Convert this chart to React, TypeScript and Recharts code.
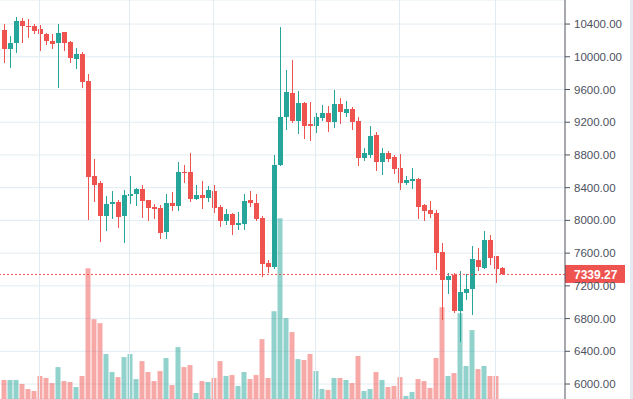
import React from 'react';
import { ComposedChart, Bar, XAxis, YAxis, CartesianGrid, ReferenceLine, Cell } from 'recharts';

const UP = '#26a69a';
const DOWN = '#ef5350';
const GRID = '#e1ecf2';

// daily candles, 2019-09-10 .. 2019-12-02
const START = Date.UTC(2019, 8, 10);
const dates = Array.from({ length: 84 }, (_, i) => new Date(START + i * 86400000).toISOString().slice(0, 10));

const open = [
  10326, 10097, 10171, 10440, 10378, 10378, 10338, 10281, 10195, 10171, 10305, 10183, 9975, 10036, 9706, 8542,
  8460, 8053, 8200, 8224, 8053, 8297, 8322, 8383, 8248, 8163, 8151, 7857, 8212, 8175, 8591, 8591,
  8261, 8310, 8273, 8358, 8163, 7992, 8077, 7943, 7955, 8248, 8212, 8029, 7479, 7426, 8676, 9263,
  9556, 9214, 9434, 9177, 9153, 9251, 9312, 9202, 9422, 9312, 9361, 9214, 8762, 8798, 9043, 8713,
  8823, 8774, 8640, 8456, 8481, 8505, 8187, 8126, 8090, 7613, 7271, 7332, 6892, 7112, 7161, 7515,
  7418, 7760, 7564, 7418,
];
const high = [
  10400, 10253, 10485, 10473, 10460, 10404, 10392, 10293, 10281, 10404, 10305, 10195, 10110, 10061, 9788, 8750,
  8485, 8297, 8358, 8248, 8371, 8542, 8399, 8432, 8255, 8200, 8187, 8322, 8346, 8713, 8676, 8823,
  8432, 8481, 8420, 8432, 8187, 8139, 8085, 8102, 8322, 8358, 8322, 8053, 7515, 8798, 10363, 9837,
  9959, 9580, 9446, 9446, 9312, 9410, 9397, 9593, 9495, 9458, 9385, 9263, 8884, 9153, 9079, 8884,
  8847, 8798, 8811, 8542, 8640, 8517, 8200, 8236, 8126, 7723, 7356, 7356, 7381, 7344, 7686, 7662,
  7870, 7821, 7570, 7430,
];
const low = [
  9926, 9865, 10049, 10171, 10232, 10281, 10069, 10146, 10097, 9621, 10073, 9926, 9853, 9621, 8004, 8224,
  7735, 7870, 8016, 7906, 7723, 8200, 8175, 8029, 7992, 8016, 7772, 7772, 8114, 8114, 8456, 8224,
  8255, 8139, 8224, 8090, 7919, 7943, 7821, 7882, 7882, 8163, 7992, 7308, 7360, 7402, 8664, 9104,
  9189, 9055, 8994, 8969, 9067, 9214, 9079, 9128, 9177, 9263, 9104, 8664, 8725, 8762, 8603, 8554,
  8713, 8566, 8371, 8432, 8383, 8016, 7992, 8029, 7393, 6782, 7100, 6868, 6513, 7026, 6843, 7381,
  7405, 7454, 7234, 7330,
];
const close = [
  10097, 10171, 10440, 10378, 10366, 10317, 10281, 10195, 10159, 10293, 10171, 9987, 10033, 9687, 8533, 8432,
  8053, 8200, 8224, 8041, 8310, 8322, 8383, 8236, 8151, 8139, 7845, 8212, 8175, 8591, 8578, 8261,
  8310, 8273, 8371, 8151, 7992, 8077, 7943, 7967, 8236, 8212, 8016, 7473, 7433, 8676, 9263, 9568,
  9214, 9434, 9153, 9153, 9263, 9312, 9202, 9422, 9324, 9361, 9202, 8762, 8823, 9031, 8713, 8823,
  8750, 8627, 8456, 8493, 8505, 8163, 8114, 8077, 7601, 7271, 7320, 6892, 7124, 7161, 7528, 7430,
  7760, 7540, 7405, 7339.27,
];
const volume = [
  105, 105, 105, 83, 55, 44, 127, 116, 88, 176, 99, 94, 66, 127, 721, 440,
  418, 248, 149, 121, 231, 248, 110, 209, 149, 99, 154, 226, 77, 286, 176, 187,
  33, 99, 94, 116, 209, 127, 132, 72, 149, 110, 132, 330, 116, 484, 996, 446,
  369, 220, 215, 248, 154, 55, 50, 116, 116, 105, 88, 237, 44, 55, 149, 105,
  66, 72, 121, 17, 39, 110, 99, 61, 226, 506, 127, 143, 473, 182, 380, 165,
  182, 127, 127, 0,
];

const gridDates = ['2019-09-16', '2019-10-01', '2019-10-15', '2019-11-01', '2019-11-15', '2019-12-01'];
const priceTicks = [6000, 6400, 6800, 7200, 7600, 8000, 8400, 8800, 9200, 9600, 10000, 10400];
const lastPrice = 7339.27;

const data = dates.map((date, i) => ({
  date,
  open: open[i],
  high: high[i],
  low: low[i],
  close: close[i],
  range: [low[i], high[i]],
  volume: volume[i],
}));

const Candle = (props: any) => {
  const { x, y, width, height, payload } = props;
  const top = Math.min(y, y + height);
  const bottom = Math.max(y, y + height);
  const span = payload.high - payload.low || 1;
  const toY = (v: number) => top + ((payload.high - v) / span) * (bottom - top);
  const color = payload.close >= payload.open ? UP : DOWN;
  const bodyTop = toY(Math.max(payload.open, payload.close));
  const bodyBottom = toY(Math.min(payload.open, payload.close));
  const cx = x + width / 2;
  return (
    <g shapeRendering="crispEdges">
      <rect x={cx - 0.5} y={top} width={1} height={Math.max(1, bottom - top)} fill={color} />
      <rect x={x} y={bodyTop} width={width} height={Math.max(1, bodyBottom - bodyTop)} fill={color} />
    </g>
  );
};

const PriceTag = (props: any) => {
  const { viewBox } = props;
  const left = viewBox.x + viewBox.width;
  return (
    <g>
      <rect x={left} y={viewBox.y - 9.5} width={60} height={18} fill={DOWN} />
      <text x={left + 9} y={viewBox.y} dy="0.36em" fill="#fff" fontSize={12} fontWeight="bold"
        fontFamily="Liberation Sans, Arial, sans-serif">
        {lastPrice.toFixed(2)}
      </text>
    </g>
  );
};

export default function App() {
  return (
    <div style={{ position: 'absolute', left: 0, top: 0, width: 633, height: 399, background: '#fff' }}>
      <ComposedChart width={633} height={399} data={data} margin={{ top: 0, right: 0, bottom: 0, left: 0 }}>
        <XAxis xAxisId="x1" dataKey="date" hide padding={{ left: 0.5, right: 60.5 }} />
        <XAxis xAxisId="x2" dataKey="date" hide padding={{ left: 0.5, right: 60.5 }} />
        <YAxis
          yAxisId="price"
          orientation="right"
          width={68}
          domain={[5817, 10694]}
          ticks={priceTicks}
          tickFormatter={(v: number) => v.toFixed(2)}
          axisLine={{ stroke: '#50535e' }}
          tickLine={{ stroke: '#50535e' }}
          tickSize={5}
          tickMargin={4}
          tick={{ fill: '#4c525e', fontSize: 11.5, fontFamily: 'Liberation Sans, Arial, sans-serif', textAnchor: 'start' }}
        />
        <YAxis yAxisId="vol" hide domain={[0, 2200]} />
        <CartesianGrid xAxisId="x1" yAxisId="price" vertical={false} stroke={GRID} />
        {gridDates.map((d) => (
          <ReferenceLine key={d} xAxisId="x1" yAxisId="price" x={d} stroke={GRID} />
        ))}
        <Bar xAxisId="x2" yAxisId="vol" dataKey="volume" barSize={5} isAnimationActive={false}>
          {data.map((d) => (
            <Cell key={d.date} fill={d.close >= d.open ? UP : DOWN} fillOpacity={0.5} />
          ))}
        </Bar>
        <Bar xAxisId="x1" yAxisId="price" dataKey="range" barSize={5} shape={<Candle />} isAnimationActive={false} />
        <ReferenceLine
          xAxisId="x1"
          yAxisId="price"
          y={lastPrice}
          stroke={DOWN}
          strokeDasharray="2 2"
          label={<PriceTag />}
        />
      </ComposedChart>
      <div style={{ position: 'absolute', left: 630, top: 0, width: 3, height: 399, background: '#e6e9ef' }} />
    </div>
  );
}
